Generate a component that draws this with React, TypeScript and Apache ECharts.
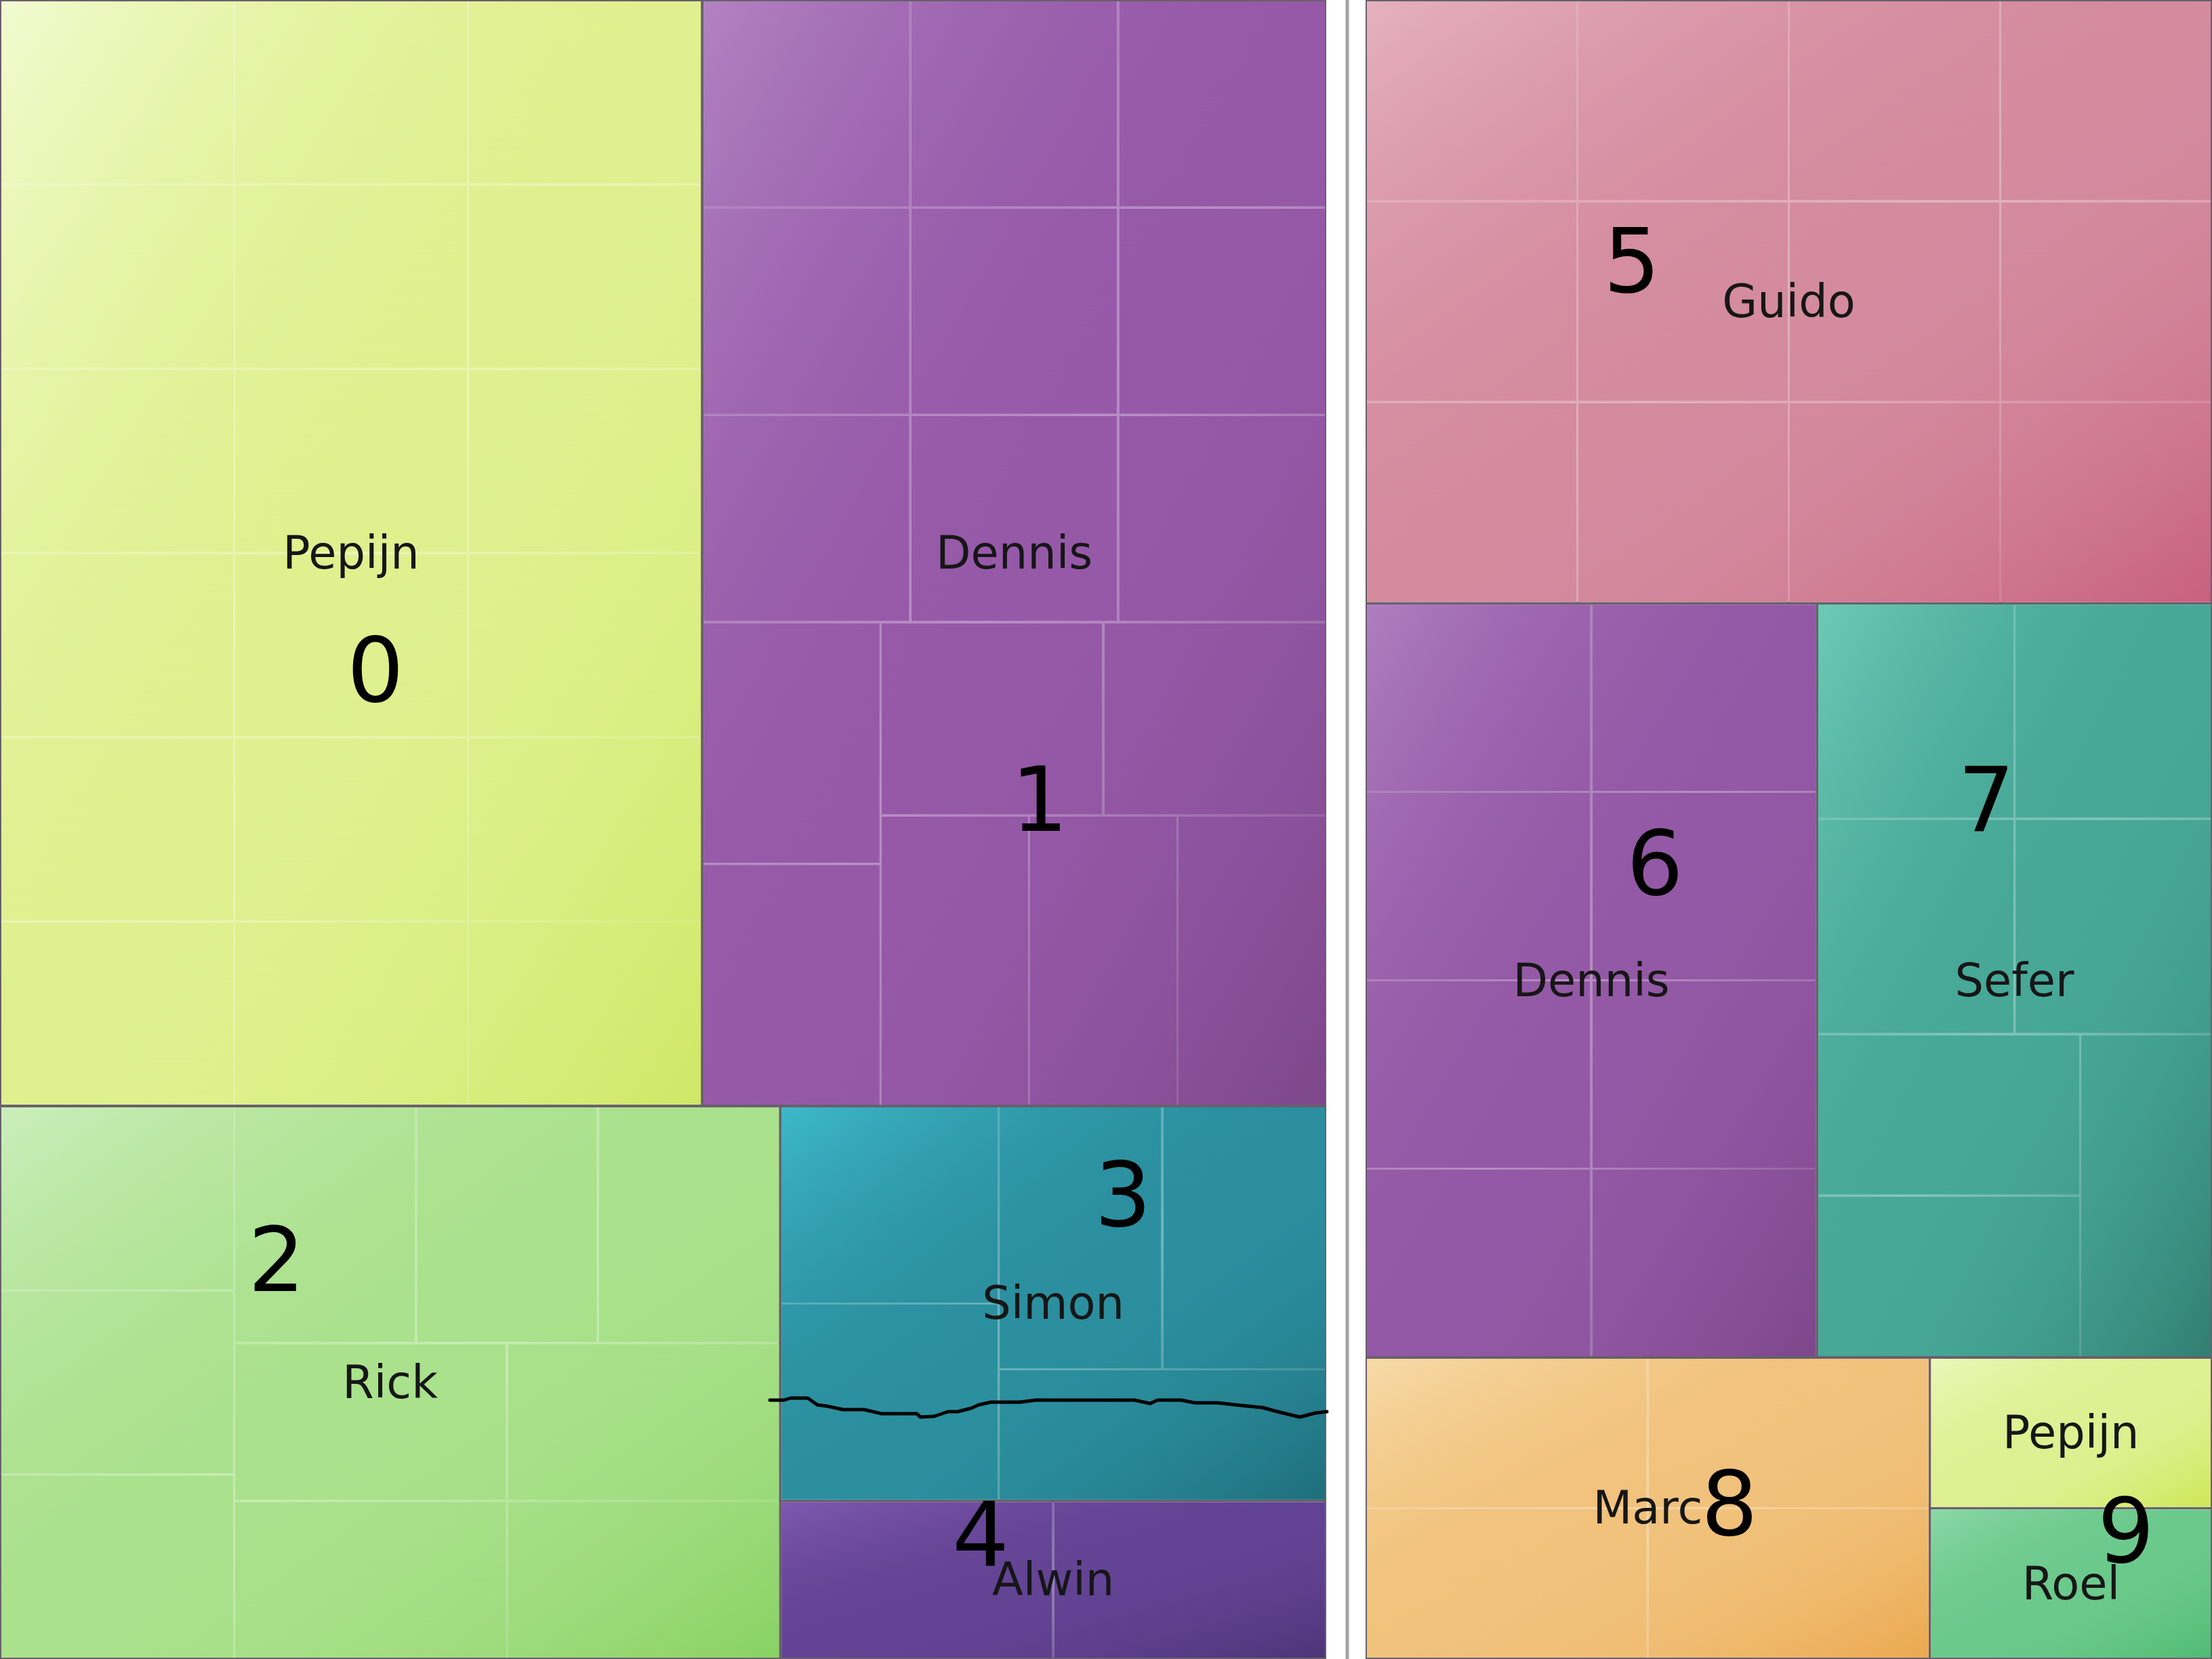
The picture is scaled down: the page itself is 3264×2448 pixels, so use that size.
import React, { useEffect, useRef } from 'react';
import * as echarts from 'echarts';

// ---- data ----
const leftNames = ['Pepijn', 'Dennis', 'Rick', 'Simon', 'Alwin'];
const leftCounts = [18, 16, 10, 5, 2];
const rightNames = ['Guido', 'Dennis', 'Sefer', 'Marc', 'Pepijn', 'Roel'];
const rightCounts = [12, 8, 7, 4, 1, 1];

// [light (top-left), mid, dark (bottom-right)]
const leftColors = [
  ['#f5fcdc', '#e0f08f', '#cbe65c'],
  ['#b68ac6', '#9659a8', '#774283'],
  ['#d0f0c4', '#aae18c', '#80ce58'],
  ['#40c0d0', '#2b8f9f', '#1c6672'],
  ['#845cb4', '#634394', '#483070'],
];
const rightColors = [
  ['#e8b8c4', '#d48b9e', '#c55676'],
  ['#b385c4', '#9459a6', '#784284'],
  ['#74d0ba', '#47a898', '#2c7468'],
  ['#f8dfb0', '#f1c27c', '#eaa244'],
  ['#eef8c2', '#def092', '#cbe444'],
  ['#92dbae', '#6cc98c', '#48b86c'],
];

// hand-written annotations on top of the picture
const annotationTexts = ['0', '1', '2', '3', '4', '5', '6', '7', '8', '9'];
const annotationX = [554, 1534, 408, 1657, 1447, 2408, 2442, 2931, 2552, 3137];
const annotationY = [989, 1180, 1859, 1763, 2265, 385, 1274, 1180, 2219, 2259];
const strokeX = [1136, 1157, 1166, 1192, 1206, 1221, 1244, 1275, 1301, 1353, 1358, 1378, 1399, 1413, 1433, 1444, 1462, 1505, 1528, 1674, 1697, 1708, 1743, 1763, 1797, 1823, 1863, 1881, 1918, 1941, 1958];
const strokeY = [2066, 2066, 2063, 2063, 2073, 2075, 2080, 2080, 2086, 2086, 2091, 2090, 2083, 2083, 2078, 2073, 2069, 2069, 2066, 2066, 2071, 2066, 2066, 2070, 2070, 2073, 2077, 2082, 2091, 2085, 2083];

const W = 3264;
const H = 2448;
const NONE = 'rgba(0,0,0,0)';
const OUTLINE = '#68606c';

function overlay(stops: string[]) {
  return {
    type: 'linear',
    x: 0,
    y: 0,
    x2: 1,
    y2: 1,
    global: false,
    colorStops: [
      { offset: 0, color: echarts.color.modifyAlpha(stops[0], 0.85) },
      { offset: 0.5, color: echarts.color.modifyAlpha(stops[1], 0) },
      { offset: 1, color: echarts.color.modifyAlpha(stops[2], 0.8) },
    ],
  };
}

function buildSeries(names: string[], counts: number[], colors: string[][], left: number, width: number) {
  const common: any = {
    type: 'treemap',
    roam: false,
    nodeClick: false,
    silent: true,
    breadcrumb: { show: false },
    squareRatio: 1,
    sort: false,
    left,
    top: 0,
    width,
    height: H,
    upperLabel: { show: false },
    visibleMin: 0,
  };
  // cells: flat mid colour; the gaps show a lighter shade of the person's colour
  const cells = {
    ...common,
    z: 1,
    label: { show: false },
    levels: [
      { itemStyle: { borderWidth: 2, gapWidth: 4, borderColor: OUTLINE } },
      { itemStyle: { borderWidth: 0, gapWidth: 3 } },
      { itemStyle: { borderWidth: 0, gapWidth: 0 } },
    ],
    data: names.map((n, i) => ({
      name: n,
      value: counts[i],
      itemStyle: { color: colors[i][1], borderColor: echarts.color.lerp(0.32, [colors[i][1], '#ffffff']) },
      children: Array.from({ length: counts[i] }, (_, k) => ({
        name: n + ' ' + (k + 1),
        value: 1,
        itemStyle: { color: colors[i][1] },
      })),
    })),
  };
  // gradient sheen over every person + the name label
  const top = {
    ...common,
    z: 2,
    label: {
      show: true,
      position: 'inside',
      align: 'center',
      verticalAlign: 'middle',
      fontSize: 67,
      fontFamily: 'DejaVu Sans',
      color: '#161616',
      overflow: 'none',
      padding: 0,
    },
    levels: [
      { itemStyle: { borderWidth: 2, gapWidth: 4, borderColor: NONE } },
      { itemStyle: { borderWidth: 0, gapWidth: 0, borderColor: NONE } },
    ],
    data: names.map((n, i) => ({ name: n, value: counts[i], itemStyle: { color: overlay(colors[i]) } })),
  };
  return [cells, top];
}

export default function App() {
  const ref = useRef<HTMLDivElement>(null);
  useEffect(() => {
    if (!ref.current) return;
    const chart = echarts.init(ref.current, undefined, { renderer: 'svg', width: W, height: H });
    const series = [
      ...buildSeries(leftNames, leftCounts, leftColors, 0, 1957),
      ...buildSeries(rightNames, rightCounts, rightColors, 2015, W - 2015),
    ];
    const graphic: any[] = [
      {
        type: 'line',
        z: 50,
        shape: { x1: 1988, y1: 0, x2: 1988, y2: H },
        style: { stroke: '#a2a2a2', lineWidth: 5 },
      },
      {
        type: 'polyline',
        z: 100,
        shape: { points: strokeX.map((x, i) => [x, strokeY[i]]) },
        style: { stroke: '#000000', lineWidth: 5, fill: null, lineJoin: 'round', lineCap: 'round' },
      },
      ...annotationTexts.map((t, i) => ({
        type: 'text',
        z: 100,
        x: annotationX[i],
        y: annotationY[i],
        style: {
          text: t,
          fontSize: 132,
          fontFamily: 'DejaVu Sans',
          fill: '#000000',
          align: 'center',
          verticalAlign: 'middle',
          textAlign: 'center',
          textVerticalAlign: 'middle',
        },
      })),
    ];
    chart.setOption({
      animation: false,
      backgroundColor: '#ffffff',
      series,
      graphic,
    });
    return () => chart.dispose();
  }, []);
  return (
    <div
      ref={ref}
      style={{ position: 'absolute', left: 0, top: 0, width: W + 'px', height: H + 'px', background: '#fff' }}
    />
  );
}
